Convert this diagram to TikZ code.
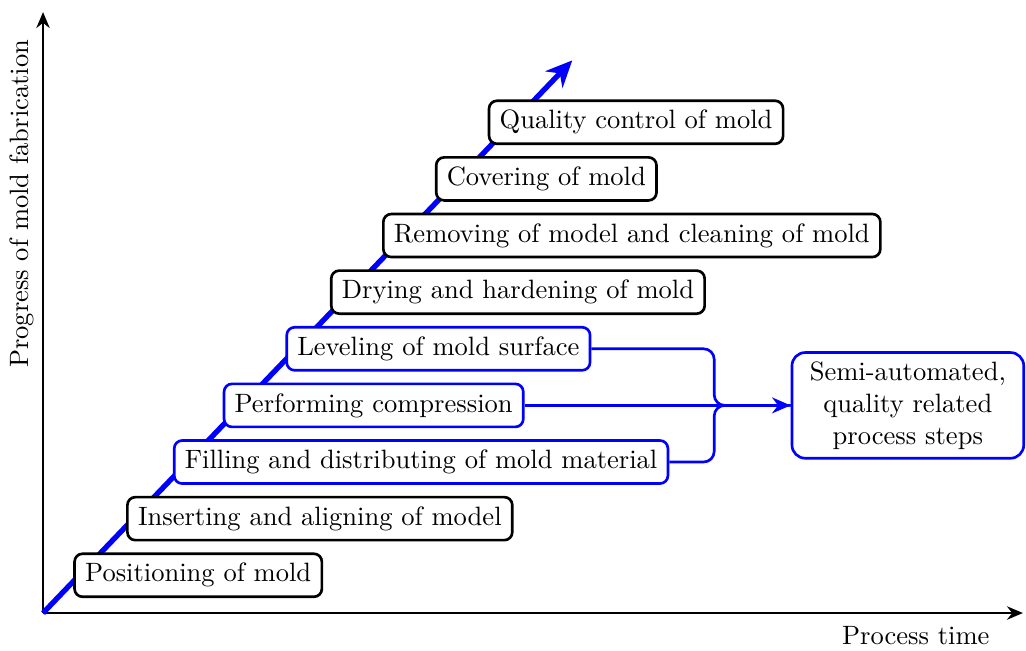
\documentclass[tikz,border=0pt]{standalone}
\usepackage{tikz}
\usetikzlibrary{arrows.meta,positioning,calc}

\begin{document}
\begin{tikzpicture}[
  stepbox/.style={draw, rounded corners=3pt, line width=1pt, fill=white,
               minimum height=0.57cm, inner xsep=4pt, anchor=west},
  qualbox/.style={stepbox, draw=blue},
  semibox/.style={draw=blue, rounded corners=5pt, line width=1pt, fill=white,
              minimum width=3.07cm, minimum height=1.4cm, align=center},
  axis/.style={-{Stealth[length=6pt,width=5pt]}, line width=1pt},
  trendarr/.style={-{Stealth[length=10pt,width=9pt]}, blue, line width=2pt},
  link/.style={blue, line width=1pt, rounded corners=4pt},
  arr/.style={link, -{Stealth[length=7pt,width=6pt]}}
]
\useasboundingbox (-0.57,-0.49) rectangle (13.02,8.12);

% axes
\coordinate (origin) at (0,0);
\coordinate (ytop)   at (0,7.96);
\coordinate (xend)   at (12.98,0);
\coordinate (trend)  at (7.01,7.32);
\draw[axis] (origin) -- (ytop);
\draw[axis] (origin) -- (xend);
\node[rotate=90] (ylab) at (-0.28,5.42) {Progress of mold fabrication};
\node (xlab) at (11.56,-0.30) {Process time};

\draw[trendarr] (origin) -- (trend);

% process steps
\node[stepbox] (pos)   at (0.40,0.50) {Positioning of mold};
\node[stepbox] (ins)   at (1.10,1.25) {Inserting and aligning of model};
\node[qualbox] (fill)  at (1.72,2.00) {Filling and distributing of mold material};
\node[qualbox] (perf)  at (2.38,2.75) {Performing compression};
\node[qualbox] (level) at (3.21,3.50) {Leveling of mold surface};
\node[stepbox] (dry)   at (3.80,4.25) {Drying and hardening of mold};
\node[stepbox] (rem)   at (4.49,5.00) {Removing of model and cleaning of mold};
\node[stepbox] (cov)   at (5.19,5.75) {Covering of mold};
\node[stepbox] (qc)    at (5.89,6.50) {Quality control of mold};

\node[semibox] (semi) at (11.455,2.75) {Semi-automated,\\quality related\\process steps};

\coordinate (merge) at (8.89,2.75);
\draw[link] (level.east) -| (merge) -- (semi.west);
\draw[link] (fill.east)  -| (merge) -- (semi.west);
\draw[arr]  (perf.east)  -- (semi.west);

\end{tikzpicture}
\end{document}
